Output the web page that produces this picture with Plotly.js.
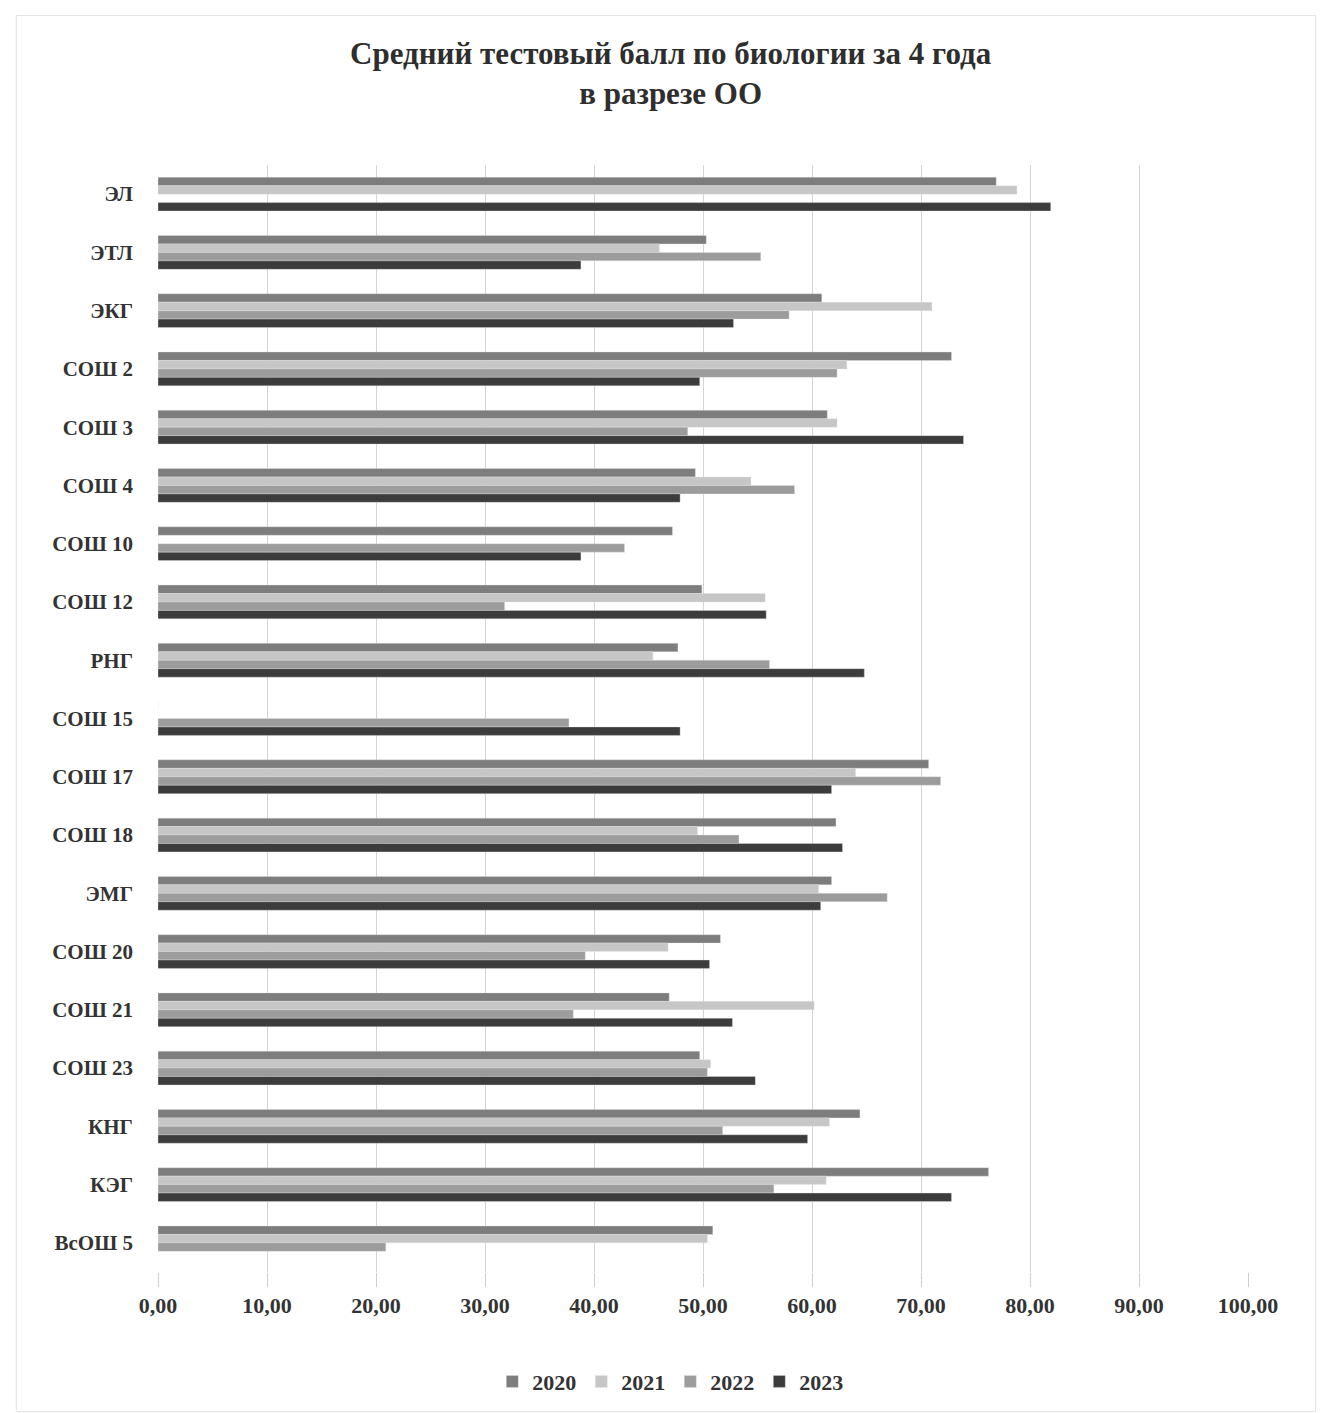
<!DOCTYPE html>
<html>
<head>
<meta charset="utf-8">
<script src="https://cdn.plot.ly/plotly-3.0.1.min.js"></script>
<style>
html,body{margin:0;padding:0;background:#fff;}
#chart{width:1328px;height:1413px;}
</style>
</head>
<body>
<div id="chart"></div>
<script>
const categories = ["ЭЛ","ЭТЛ","ЭКГ","СОШ 2","СОШ 3","СОШ 4","СОШ 10","СОШ 12","РНГ","СОШ 15","СОШ 17","СОШ 18","ЭМГ","СОШ 20","СОШ 21","СОШ 23","КНГ","КЭГ","ВсОШ 5"];
const years = ["2020","2021","2022","2023"];
const v2020 = [76.9, 50.3, 60.9, 72.8, 61.4, 49.3, 47.2, 49.9, 47.7, 0,    70.7, 62.2, 61.8, 51.6, 46.9, 49.7, 64.4, 76.2, 50.9];
const v2021 = [78.8, 46.0, 71.0, 63.2, 62.3, 54.4, 0,    55.7, 45.4, null, 64.0, 49.5, 60.6, 46.8, 60.2, 50.7, 61.6, 61.3, 50.4];
const v2022 = [null, 55.3, 57.9, 62.3, 48.6, 58.4, 42.8, 31.8, 56.1, 37.7, 71.8, 53.3, 66.9, 39.2, 38.1, 50.4, 51.8, 56.5, 20.9];
const v2023 = [81.9, 38.8, 52.8, 49.7, 73.9, 47.9, 38.8, 55.8, 64.8, 47.9, 61.8, 62.8, 60.8, 50.6, 52.7, 54.8, 59.6, 72.8, null];
const colors = ["#7d7d7d", "#c6c6c6", "#9c9c9c", "#3c3c3c"];
const series = [v2020, v2021, v2022, v2023];

const fontFam = "Liberation Serif, Times New Roman, serif";
const traces = series.map((vals, i) => ({
  type: "bar",
  orientation: "h",
  name: years[i],
  y: categories,
  x: vals,
  marker: {color: colors[i], line: {color: "rgba(230,230,230,0.6)", width: 0.6}},
  hoverinfo: "x+y+name"
}));

const layout = {
  width: 1328,
  height: 1413,
  paper_bgcolor: "#ffffff",
  plot_bgcolor: "#ffffff",
  separators: ",\u00a0",
  barmode: "group",
  bargap: 0.42,
  bargroupgap: 0,
  margin: {l: 158, r: 80, t: 165, b: 140},
  title: {
    text: "<b>Средний тестовый балл по биологии за 4 года<br>в разрезе ОО</b>",
    font: {family: fontFam, size: 31, color: "#2e2e2e"},
    x: 0.505, xanchor: "center",
    y: 0.955, yanchor: "middle", yref: "container"
  },
  xaxis: {
    range: [0, 100],
    dtick: 10,
    tick0: 0,
    tickformat: ".2f",
    showgrid: true,
    gridcolor: "#d4d4d4",
    gridwidth: 1,
    zeroline: false,
    showline: false,
    ticks: "outside",
    ticklen: 14,
    tickcolor: "#cfcfcf",
    tickfont: {family: fontFam, size: 22, color: "#333", weight: "bold"},
    fixedrange: true
  },
  yaxis: {
    autorange: "reversed",
    type: "category",
    showgrid: false,
    zeroline: false,
    showline: false,
    ticks: "",
    ticklabelstandoff: 24,
    tickfont: {family: fontFam, size: 21, color: "#333", weight: "bold"},
    fixedrange: true
  },
  legend: {
    orientation: "h",
    x: 0.47, xanchor: "center",
    y: -0.098, yanchor: "middle",
    font: {family: fontFam, size: 22, color: "#333", weight: "bold"},
    itemwidth: 30,
    traceorder: "normal"
  },
  shapes: [{
    type: "rect", xref: "paper", yref: "paper",
    x0: -0.13, x1: 1.062, y0: -0.126, y1: 1.135,
    line: {color: "#e2e2e2", width: 1}
  }],
  showlegend: true
};

Plotly.newPlot("chart", traces, layout, {displayModeBar: false, staticPlot: true});
</script>
</body>
</html>
